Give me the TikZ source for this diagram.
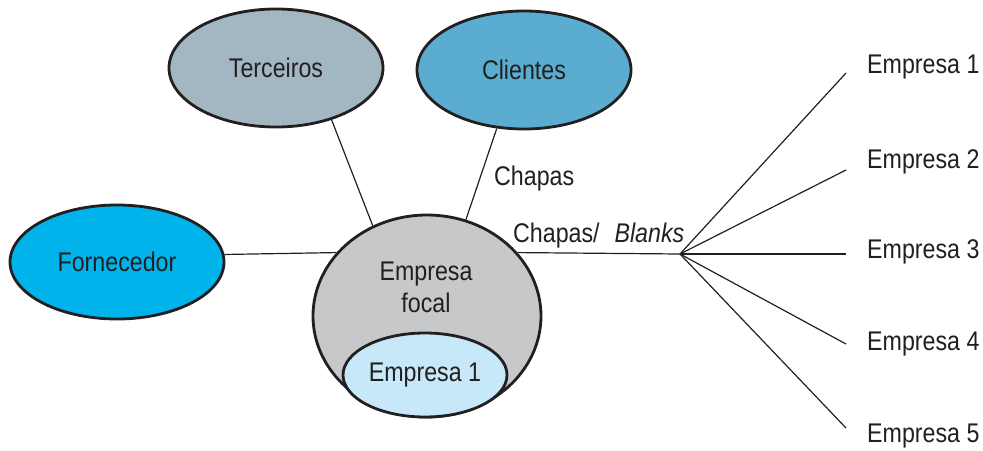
\documentclass[tikz,border=0pt]{standalone}
\usepackage{fontspec}
\setmainfont[FakeStretch=0.86]{Liberation Sans}
\usetikzlibrary{shapes.geometric}
\definecolor{txt}{HTML}{231F20}
\definecolor{tercC}{HTML}{A3B7C3}
\definecolor{cliC}{HTML}{5AADD0}
\definecolor{fornC}{HTML}{00B3EB}
\definecolor{focC}{HTML}{C7C8CA}
\definecolor{innC}{HTML}{C7E8F8}
\tikzset{
  blob/.style={ellipse, draw=txt, line width=2.8pt, inner sep=0pt, text=txt},
  conn/.style={draw=txt, line width=1.2pt},
  lbl/.style={text=txt, inner sep=0pt}
}
\begin{document}
\begin{tikzpicture}[x=1pt,y=-1pt, font=\fontsize{27}{32}\selectfont]
\useasboundingbox (0,0) rectangle (983,450);
% nodes
\node[blob, fill=tercC, minimum width=214pt, minimum height=118pt] (terc) at (276,68) {Terceiros};
\node[blob, fill=cliC, minimum width=214pt, minimum height=118pt] (cli) at (524,70) {Clientes};
\node[blob, fill=fornC, minimum width=214pt, minimum height=114pt] (forn) at (117,262) {Fornecedor};
\node[blob, fill=focC, minimum width=228pt, minimum height=202pt] (focal) at (427,316) {};
\node[blob, fill=innC, minimum width=164pt, minimum height=84pt] (inner) at (425,375) {Empresa 1};
\node[lbl, align=center] (focaltxt) at (426,287) {Empresa\\focal};
% connectors
\draw[conn] (terc.-43) -- (focal.121);
\draw[conn] (cli.-115) -- (focal.68);
\draw[conn] (forn.4) -- (focal.145);
\coordinate (hub) at (680,254);
\draw[conn] (focal.35) -- (hub);
\coordinate (l1) at (846,73);
\coordinate (l2) at (846,170);
\coordinate (l3) at (846,254);
\coordinate (l4) at (846,344);
\coordinate (l5) at (846,428);
\foreach \i in {1,...,5} {\draw[conn] (hub) -- (l\i);}
% labels
\node[lbl, anchor=base west] (ch1) at (494,185) {Chapas};
\node[lbl, anchor=base west] (ch2) at (513,242) {Chapas/\hspace{0.55em}\textit{Blanks}};
\node[lbl, anchor=west] (e1) at (867,67) {Empresa 1};
\node[lbl, anchor=west] (e2) at (867,162) {Empresa 2};
\node[lbl, anchor=west] (e3) at (867,252) {Empresa 3};
\node[lbl, anchor=west] (e4) at (867,344) {Empresa 4};
\node[lbl, anchor=west] (e5) at (867,436) {Empresa 5};
\end{tikzpicture}
\end{document}
